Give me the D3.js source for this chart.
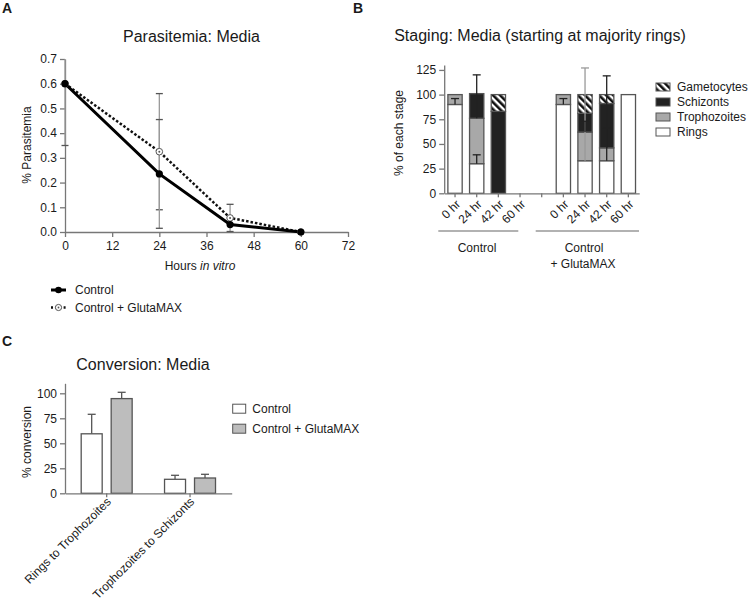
<!DOCTYPE html>
<html><head><meta charset="utf-8">
<script src="https://cdn.jsdelivr.net/npm/d3@7"></script>
<style>
body{margin:0;background:#fff;}
svg text{font-family:"Liberation Sans",Arial,Helvetica,sans-serif;fill:#1a1a1a;}
.ax path,.ax line{stroke:#777;stroke-width:1.3;}
.ax text{font-size:12px;}
</style></head>
<body>
<svg id="c" width="748" height="601"></svg>
<script>
// ---------- Panel A data ----------
const hoursA = [0, 24, 42, 60];
const xTicksA = [0, 12, 24, 36, 48, 60, 72];
const yTicksA = [0, 0.1, 0.2, 0.3, 0.4, 0.5, 0.6, 0.7];
const ctrlA = [0.60, 0.235, 0.03, 0.0];
const ctrlErrA = [0.25, 0.22, 0, 0];
const glutA = [0.60, 0.325, 0.057, 0.0];
const glutErrA = [0, 0.235, 0.055, 0];
const seriesNamesA = ["Control", "Control + GlutaMAX"];

// ---------- Panel B data ----------
const timesB = ["0 hr", "24 hr", "42 hr", "60 hr"];
const groupsB = ["Control", "Control + GlutaMAX"];
const stagesB = ["Rings", "Trophozoites", "Schizonts", "Gametocytes"];
const ringsCtrl = [90, 30, 0, 0];
const trophCtrl = [10, 46, 0, 0];
const schizCtrl = [0, 25, 83, 0];
const gametCtrl = [0, 0, 17, 0];
const ringsGlut = [90, 33, 33, 100];
const trophGlut = [10, 29, 13, 0];
const schizGlut = [0, 19, 45, 0];
const gametGlut = [0, 19, 9, 0];
const yTicksB = [0, 25, 50, 75, 100, 125];
// error bars: group index, time index, low, high, dark?
const errGroupB = [0, 0, 0, 1, 1, 1, 1, 1];
const errTimeB  = [0, 1, 1, 0, 1, 1, 2, 2];
const errLoB    = [90, 30, 76, 90, 33, 62, 33, 46];
const errHiB    = [96, 39, 120, 96, 127, 73, 119, 66];
const errDarkB  = [1, 1, 1, 1, 0, 1, 1, 1];

// ---------- Panel C data ----------
const convCats = ["Rings to Trophozoites", "Trophozoites to Schizonts"];
const convSeries = ["Control", "Control + GlutaMAX"];
const convCtrl = [59.5, 14];
const convCtrlErr = [19.5, 4];
const convGlut = [94.7, 15.3];
const convGlutErr = [6.3, 3.7];
const yTicksC = [0, 25, 50, 75, 100];

const svg = d3.select("#c");
const defs = svg.append("defs");
const pat = defs.append("pattern").attr("id","hatch").attr("patternUnits","userSpaceOnUse")
  .attr("width",5).attr("height",5).attr("patternTransform","rotate(-45)");
pat.append("rect").attr("width",5).attr("height",5).attr("fill","#fff");
pat.append("rect").attr("width",2.6).attr("height",5).attr("fill","#111");

const stageFill = {"Rings":"#fff","Trophozoites":"#a8a8a8","Schizonts":"#222","Gametocytes":"url(#hatch)"};

// panel letters
svg.append("text").attr("x",2).attr("y",13).attr("font-size",14).attr("font-weight","bold").text("A");
svg.append("text").attr("x",353).attr("y",13).attr("font-size",14).attr("font-weight","bold").text("B");
svg.append("text").attr("x",2).attr("y",346).attr("font-size",14).attr("font-weight","bold").text("C");

// ================= Panel A =================
(function(){
  const g = svg.append("g");
  const x = d3.scaleLinear().domain([0,72]).range([65,348]);
  const y = d3.scaleLinear().domain([0,0.7]).range([232,59]);
  g.append("text").attr("x",191.5).attr("y",42).attr("text-anchor","middle").attr("font-size",16).text("Parasitemia: Media");
  g.append("g").attr("class","ax").attr("transform","translate(0,232)")
    .call(d3.axisBottom(x).tickValues(xTicksA).tickSize(5).tickSizeOuter(0).tickPadding(4));
  g.append("g").attr("class","ax").attr("transform","translate(65,0)")
    .call(d3.axisLeft(y).tickValues(yTicksA).tickFormat(d3.format(".1f")).tickSize(5).tickSizeOuter(0).tickPadding(3));
  const xl = g.append("text").attr("x",200).attr("y",270).attr("text-anchor","middle").attr("font-size",12);
  xl.append("tspan").text("Hours ");
  xl.append("tspan").attr("font-style","italic").text("in vitro");
  g.append("text").attr("transform","translate(31,145) rotate(-90)").attr("text-anchor","middle").attr("font-size",12).text("% Parasitemia");

  // error bars
  const drawErr = (vals, errs, col) => {
    hoursA.forEach((h,i) => {
      if (!errs[i]) return;
      const lo = Math.max(0, vals[i]-errs[i]), hi = Math.min(0.7, vals[i]+errs[i]);
      g.append("line").attr("x1",x(h)).attr("x2",x(h)).attr("y1",y(lo)).attr("y2",y(hi)).attr("stroke","#999").attr("stroke-width",1.3);
      [vals[i]-errs[i], vals[i]+errs[i]].forEach(v => {
        if (v < 0 || v > 0.7) return;
        g.append("line").attr("x1",x(h)-3.5).attr("x2",x(h)+3.5).attr("y1",y(v)).attr("y2",y(v)).attr("stroke",col).attr("stroke-width",1.3);
      });
    });
  };
  drawErr(glutA, glutErrA, "#555");
  drawErr(ctrlA, ctrlErrA, "#555");

  const line = d3.line().x((d,i)=>x(hoursA[i])).y(d=>y(d));
  g.append("path").datum(glutA).attr("d",line).attr("fill","none").attr("stroke","#111").attr("stroke-width",2.5).attr("stroke-dasharray","2.5,2");
  g.append("path").datum(ctrlA).attr("d",line).attr("fill","none").attr("stroke","#000").attr("stroke-width",3);
  g.selectAll(".pg").data(glutA).enter().append("circle").attr("cx",(d,i)=>x(hoursA[i])).attr("cy",d=>y(d)).attr("r",3.3)
    .attr("fill","#fff").attr("stroke","#555").attr("stroke-width",1);
  g.selectAll(".pgd").data(glutA).enter().append("circle").attr("cx",(d,i)=>x(hoursA[i])).attr("cy",d=>y(d)).attr("r",1).attr("fill","#555");
  g.selectAll(".pc").data(ctrlA).enter().append("circle").attr("cx",(d,i)=>x(hoursA[i])).attr("cy",d=>y(d)).attr("r",3.6).attr("fill","#000");

  // legend
  const ly = [290, 307.5];
  seriesNamesA.forEach((n,i) => {
    const l = g.append("g");
    if (i===0) {
      l.append("line").attr("x1",51).attr("x2",66).attr("y1",ly[i]).attr("y2",ly[i]).attr("stroke","#000").attr("stroke-width",3);
      l.append("circle").attr("cx",58.5).attr("cy",ly[i]).attr("r",3.3).attr("fill","#000");
    } else {
      l.append("line").attr("x1",51).attr("x2",66).attr("y1",ly[i]).attr("y2",ly[i]).attr("stroke","#111").attr("stroke-width",2.5).attr("stroke-dasharray","2,2.2");
      l.append("circle").attr("cx",58.5).attr("cy",ly[i]).attr("r",3.1).attr("fill","#fff").attr("stroke","#555");
      l.append("circle").attr("cx",58.5).attr("cy",ly[i]).attr("r",0.9).attr("fill","#555");
    }
    l.append("text").attr("x",75).attr("y",ly[i]).attr("dy","0.35em").attr("font-size",12).text(n);
  });
})();

// ================= Panel B =================
(function(){
  const g = svg.append("g");
  const slots = [];
  groupsB.forEach((gr,gi) => {
    timesB.forEach(t => slots.push(gr+"|"+t));
    if (gi===0) slots.push("gap");
  });
  const x = d3.scaleBand().domain(slots).range([444.2,639.2]).paddingInner(0.34).paddingOuter(0.17);
  const y = d3.scaleLinear().domain([0,130]).range([193.3,65]);
  g.append("text").attr("x",540).attr("y",41).attr("text-anchor","middle").attr("font-size",16).text("Staging: Media (starting at majority rings)");

  const stackVals = [[ringsCtrl,trophCtrl,schizCtrl,gametCtrl],[ringsGlut,trophGlut,schizGlut,gametGlut]];
  groupsB.forEach((gr,gi) => {
    timesB.forEach((t,ti) => {
      let base = 0;
      stagesB.forEach((s,si) => {
        const v = stackVals[gi][si][ti];
        if (v > 0) {
          g.append("rect").attr("x",x(gr+"|"+t)).attr("width",x.bandwidth())
            .attr("y",y(base+v)).attr("height",y(base)-y(base+v))
            .attr("fill",stageFill[s]).attr("stroke","#555").attr("stroke-width",1.3);
        }
        base += v;
      });
    });
  });
  // error bars
  errLoB.forEach((lo,i) => {
    const cx = x(groupsB[errGroupB[i]]+"|"+timesB[errTimeB[i]]) + x.bandwidth()/2;
    const col = errDarkB[i] ? "#222" : "#999";
    g.append("line").attr("x1",cx).attr("x2",cx).attr("y1",y(lo)).attr("y2",y(errHiB[i])).attr("stroke",col).attr("stroke-width",1.3);
    g.append("line").attr("x1",cx-4).attr("x2",cx+4).attr("y1",y(errHiB[i])).attr("y2",y(errHiB[i])).attr("stroke",col).attr("stroke-width",1.3);
  });

  const xa = g.append("g").attr("class","ax").attr("transform","translate(0,193.3)")
    .call(d3.axisBottom(x).tickSize(4).tickSizeOuter(0).tickFormat(""));
  slots.forEach(s => {
    if (s==="gap") return;
    const cx = x(s)+x.bandwidth()/2;
    g.append("text").attr("transform",`translate(${cx+3},${202}) rotate(-45)`).attr("text-anchor","end").attr("dy","0.35em").attr("font-size",12).text(s.split("|")[1]);
  });
  g.append("g").attr("class","ax").attr("transform","translate(444.2,0)")
    .call(d3.axisLeft(y).tickValues(yTicksB).tickSize(5).tickSizeOuter(0).tickPadding(3));
  g.append("text").attr("transform","translate(403,133) rotate(-90)").attr("text-anchor","middle").attr("font-size",12).text("% of each stage");

  // group brackets
  const br = [[438.3,518.3],[535.7,639]];
  br.forEach(b => g.append("line").attr("x1",b[0]).attr("x2",b[1]).attr("y1",231).attr("y2",231).attr("stroke","#999").attr("stroke-width",1.5));
  g.append("text").attr("x",477).attr("y",247.5).attr("dy","0.35em").attr("text-anchor","middle").attr("font-size",12).text(groupsB[0]);
  const t2 = groupsB[1].split(" + ");
  g.append("text").attr("x",584).attr("y",247.5).attr("dy","0.35em").attr("text-anchor","middle").attr("font-size",12).text(t2[0]);
  g.append("text").attr("x",583).attr("y",263.5).attr("dy","0.35em").attr("text-anchor","middle").attr("font-size",12).text("+ "+t2[1]);

  // legend
  const order = stagesB.slice().reverse();
  order.forEach((s,i) => {
    const yy = 87 + i*15;
    g.append("rect").attr("x",656).attr("y",yy-4).attr("width",14).attr("height",8).attr("fill",stageFill[s]).attr("stroke","#555").attr("stroke-width",1);
    g.append("text").attr("x",677).attr("y",yy).attr("dy","0.35em").attr("font-size",12).text(s);
  });
})();

// ================= Panel C =================
(function(){
  const g = svg.append("g");
  const x = d3.scaleBand().domain(convCats).range([65,231.7]);
  const xs = d3.scaleBand().domain(convSeries).range([0,x.bandwidth()]).paddingInner(0.3).paddingOuter(0.54);
  const y = d3.scaleLinear().domain([0,110]).range([493.3,383.3]);
  g.append("text").attr("x",143).attr("y",370).attr("text-anchor","middle").attr("font-size",16).text("Conversion: Media");
  const vals = [convCtrl, convGlut], errs = [convCtrlErr, convGlutErr], fills = ["#fff","#bdbdbd"];
  convSeries.forEach((s,si) => {
    convCats.forEach((c,ci) => {
      const bx = x(c)+xs(s), v = vals[si][ci], e = errs[si][ci];
      const cx = bx + xs.bandwidth()/2;
      g.append("line").attr("x1",cx).attr("x2",cx).attr("y1",y(v)).attr("y2",y(v+e)).attr("stroke","#555").attr("stroke-width",1.3);
      g.append("line").attr("x1",cx-4).attr("x2",cx+4).attr("y1",y(v+e)).attr("y2",y(v+e)).attr("stroke","#555").attr("stroke-width",1.3);
      g.append("rect").attr("x",bx).attr("width",xs.bandwidth()).attr("y",y(v)).attr("height",y(0)-y(v))
        .attr("fill",fills[si]).attr("stroke","#555").attr("stroke-width",1.3);
    });
  });
  g.append("g").attr("class","ax").attr("transform","translate(0,493.3)")
    .call(d3.axisBottom(x).tickSize(4).tickSizeOuter(0).tickFormat(""));
  convCats.forEach(c => {
    const cx = x(c)+x.bandwidth()/2;
    g.append("text").attr("transform",`translate(${cx+2},${499.5}) rotate(-45)`).attr("text-anchor","end").attr("dy","0.35em").attr("font-size",12).text(c);
  });
  g.append("g").attr("class","ax").attr("transform","translate(65,0)")
    .call(d3.axisLeft(y).tickValues(yTicksC).tickSize(5).tickSizeOuter(0).tickPadding(3));
  g.append("text").attr("transform","translate(31,442) rotate(-90)").attr("text-anchor","middle").attr("font-size",12).text("% conversion");
  convSeries.forEach((s,i) => {
    const yy = 408.7 + i*20;
    g.append("rect").attr("x",232.7).attr("y",yy-4.5).attr("width",13).attr("height",9).attr("fill",fills[i]).attr("stroke","#555").attr("stroke-width",1);
    g.append("text").attr("x",252.3).attr("y",yy).attr("dy","0.35em").attr("font-size",12).text(s);
  });
})();
</script>
</body></html>
